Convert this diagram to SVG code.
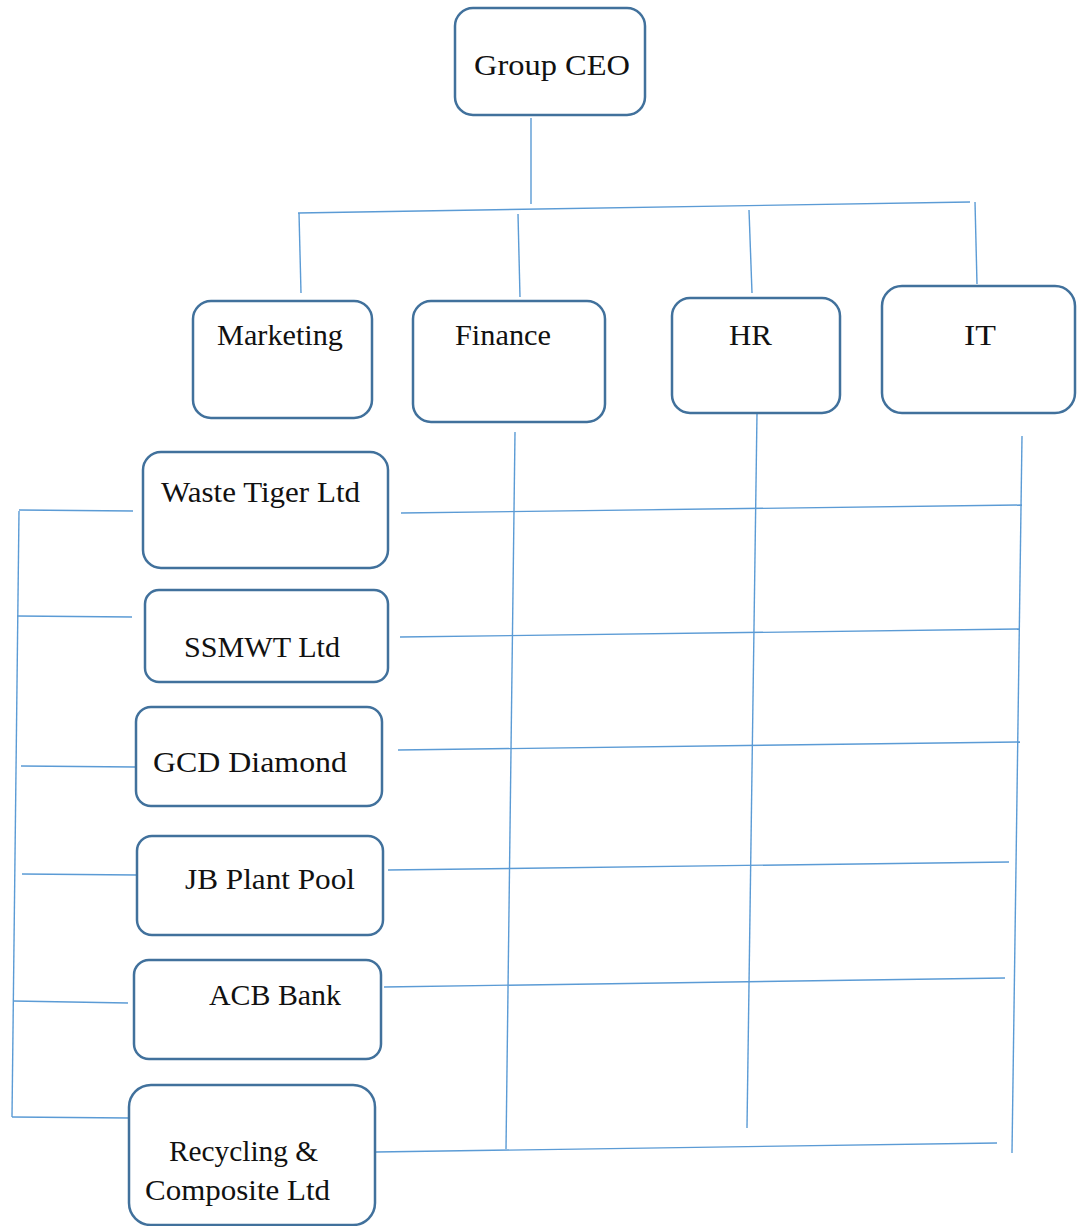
<svg xmlns="http://www.w3.org/2000/svg" width="1077" height="1226" viewBox="0 0 1077 1226">
<style>
.box{fill:#fff;stroke:#41719c;stroke-width:2.5}
.lbl{font-family:"Liberation Serif","DejaVu Serif",serif;font-size:30px;fill:#111}
.ln{stroke:#5b9bd5;stroke-width:1.4;fill:none}
</style>
<rect width="1077" height="1226" fill="#fff"/>
<g id="connectors">
<line class="ln" x1="531" y1="118" x2="531" y2="204"/>
<line class="ln" x1="298" y1="213" x2="970" y2="202"/>
<line class="ln" x1="299" y1="213" x2="301" y2="293"/>
<line class="ln" x1="518" y1="214" x2="520" y2="297"/>
<line class="ln" x1="749" y1="210" x2="752" y2="293"/>
<line class="ln" x1="975" y1="202" x2="977" y2="284"/>
<line class="ln" x1="515" y1="432" x2="506" y2="1149"/>
<line class="ln" x1="757" y1="413" x2="747" y2="1128"/>
<line class="ln" x1="1022" y1="436" x2="1012" y2="1153"/>
<line class="ln" x1="19" y1="511" x2="12" y2="1117"/>
<line class="ln" x1="19" y1="510" x2="133" y2="511"/>
<line class="ln" x1="17" y1="616" x2="132" y2="617"/>
<line class="ln" x1="21" y1="766" x2="135" y2="767"/>
<line class="ln" x1="22" y1="874" x2="137" y2="875"/>
<line class="ln" x1="13" y1="1001" x2="128" y2="1003"/>
<line class="ln" x1="12" y1="1117" x2="129" y2="1118"/>
<line class="ln" x1="401" y1="513" x2="1022" y2="505"/>
<line class="ln" x1="400" y1="637" x2="1020" y2="629"/>
<line class="ln" x1="398" y1="750" x2="1020" y2="742"/>
<line class="ln" x1="388" y1="870" x2="1009" y2="862"/>
<line class="ln" x1="384" y1="987" x2="1005" y2="978"/>
<line class="ln" x1="376" y1="1152" x2="997" y2="1143"/>
</g>
<g id="ceo">
<rect class="box" x="455" y="8" width="190" height="107" rx="18"/>
<text class="lbl" x="474" y="75" textLength="156" lengthAdjust="spacingAndGlyphs">Group CEO</text>
</g>
<g id="marketing">
<rect class="box" x="193" y="301" width="179" height="117" rx="18"/>
<text class="lbl" x="217" y="345" textLength="126" lengthAdjust="spacingAndGlyphs">Marketing</text>
</g>
<g id="finance">
<rect class="box" x="413" y="301" width="192" height="121" rx="18"/>
<text class="lbl" x="455" y="345" textLength="96" lengthAdjust="spacingAndGlyphs">Finance</text>
</g>
<g id="hr">
<rect class="box" x="672" y="298" width="168" height="115" rx="18"/>
<text class="lbl" x="729" y="345" textLength="43" lengthAdjust="spacingAndGlyphs">HR</text>
</g>
<g id="it">
<rect class="box" x="882" y="286" width="193" height="127" rx="20"/>
<text class="lbl" x="964" y="345" textLength="32" lengthAdjust="spacingAndGlyphs">IT</text>
</g>
<g id="waste-tiger">
<rect class="box" x="143" y="452" width="245" height="116" rx="18"/>
<text class="lbl" x="161" y="502" textLength="199" lengthAdjust="spacingAndGlyphs">Waste Tiger Ltd</text>
</g>
<g id="ssmwt">
<rect class="box" x="145" y="590" width="243" height="92" rx="14"/>
<text class="lbl" x="184" y="657" textLength="156" lengthAdjust="spacingAndGlyphs">SSMWT Ltd</text>
</g>
<g id="gcd">
<rect class="box" x="136" y="707" width="246" height="99" rx="15"/>
<text class="lbl" x="153" y="772" textLength="194" lengthAdjust="spacingAndGlyphs">GCD Diamond</text>
</g>
<g id="jb">
<rect class="box" x="137" y="836" width="246" height="99" rx="15"/>
<text class="lbl" x="185" y="889" textLength="170" lengthAdjust="spacingAndGlyphs">JB Plant Pool</text>
</g>
<g id="acb">
<rect class="box" x="134" y="960" width="247" height="99" rx="15"/>
<text class="lbl" x="209" y="1005" textLength="132" lengthAdjust="spacingAndGlyphs">ACB Bank</text>
</g>
<g id="recycling">
<rect class="box" x="129" y="1085" width="246" height="140" rx="22"/>
<text class="lbl" x="169" y="1161" textLength="149" lengthAdjust="spacingAndGlyphs">Recycling &amp;</text>
<text class="lbl" x="145" y="1200" textLength="185" lengthAdjust="spacingAndGlyphs">Composite Ltd</text>
</g>
</svg>
